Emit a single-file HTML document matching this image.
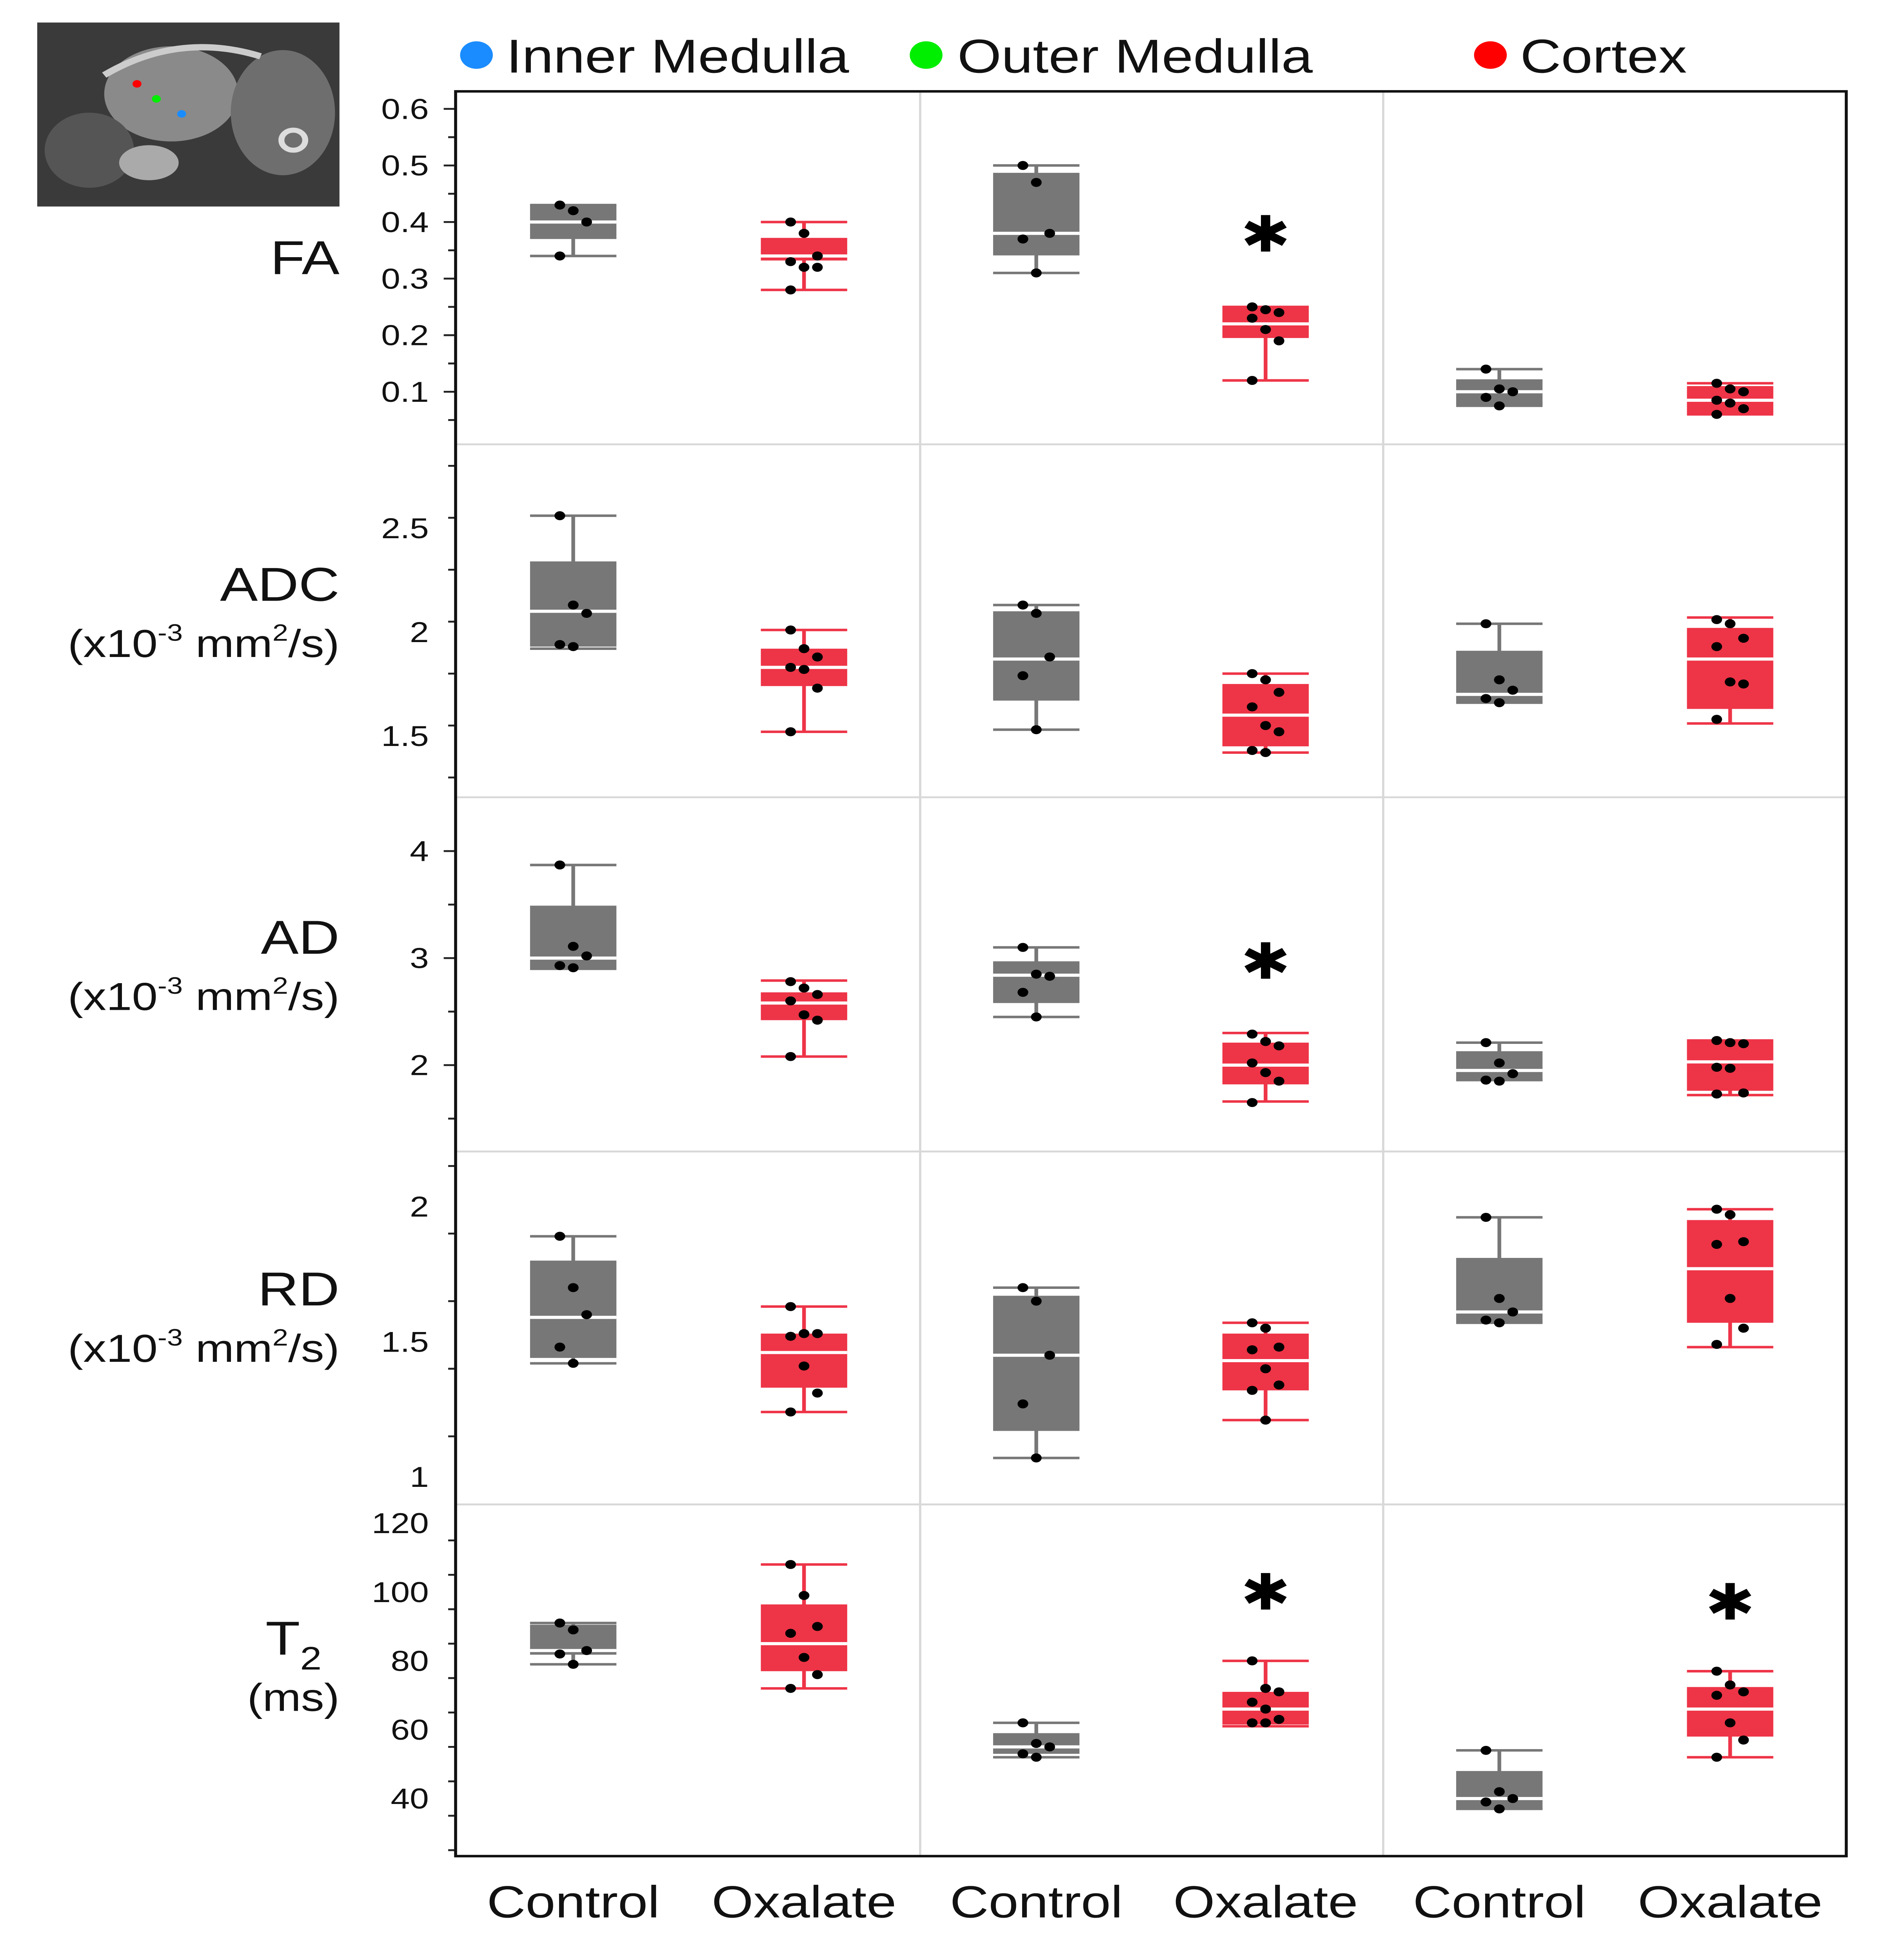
<!DOCTYPE html>
<html><head><meta charset="utf-8"><style>
html,body{margin:0;padding:0;background:#fff;overflow:hidden;width:100%;height:100%}
svg{display:block;position:absolute;left:0;top:0;width:100%;height:100%}
text{font-family:"Liberation Sans",sans-serif}
</style></head><body>
<svg id="chart" viewBox="0 0 1264 1566" preserveAspectRatio="none" xmlns="http://www.w3.org/2000/svg">
<g>
<rect x="25" y="18" width="203" height="147" fill="#3a3a3a"/>
<ellipse cx="115" cy="75" rx="45" ry="38" fill="#8a8a8a"/>
<ellipse cx="190" cy="90" rx="35" ry="50" fill="#6e6e6e"/>
<ellipse cx="60" cy="120" rx="30" ry="30" fill="#555"/>
<ellipse cx="100" cy="130" rx="20" ry="14" fill="#aaa"/>
<circle cx="197" cy="112" r="8" fill="none" stroke="#ddd" stroke-width="4"/>
<path d="M70 60 Q120 25 175 45" stroke="#ccc" stroke-width="5" fill="none"/>
<circle cx="92" cy="67" r="3" fill="#ff0000"/>
<circle cx="105" cy="79" r="3" fill="#00ee00"/>
<circle cx="122" cy="91" r="3" fill="#1a8cff"/>
</g>
<g>
<circle cx="320" cy="44" r="11" fill="#1a8cff"/>
<text x="340" y="58" font-size="38" fill="#111">Inner Medulla</text>
<circle cx="622" cy="44" r="11" fill="#00ee00"/>
<text x="643" y="58" font-size="38" fill="#111">Outer Medulla</text>
<circle cx="1001" cy="44" r="11" fill="#ff0000"/>
<text x="1021" y="58" font-size="38" fill="#111">Cortex</text>
</g>
<g id="plot"></g>
</svg>
<script>
const groups=["Control","Oxalate","Control","Oxalate","Control","Oxalate"];
const rowNames=["FA","ADC","AD","RD","T2"];
const faBoxes=[[0.34,0.37,0.40,0.43,0.43],[0.28,0.332,0.34,0.372,0.40],[0.31,0.341,0.38,0.487,0.50],[0.12,0.195,0.22,0.25,0.25],[0.08,0.073,0.10,0.122,0.14],[0.06,0.062,0.085,0.11,0.115]];
const faPoints=[[0.43,0.42,0.40,0.34],[0.40,0.38,0.34,0.33,0.32,0.32,0.28],[0.50,0.47,0.38,0.37,0.31],[0.25,0.245,0.24,0.23,0.21,0.19,0.12],[0.14,0.105,0.10,0.09,0.075],[0.115,0.105,0.10,0.085,0.08,0.07,0.06]];
const adcBoxes=[[1.92,1.93,2.10,2.34,2.56],[1.52,1.74,1.83,1.92,2.01],[1.53,1.67,1.87,2.10,2.13],[1.42,1.45,1.60,1.75,1.80],[1.66,1.66,1.70,1.91,2.04],[1.56,1.63,1.87,2.02,2.07]];
const adcPoints=[[2.56,2.13,2.09,1.94,1.93],[2.01,1.92,1.88,1.83,1.82,1.73,1.52],[2.13,2.09,1.88,1.79,1.53],[1.80,1.77,1.71,1.64,1.55,1.52,1.43,1.42],[2.04,1.77,1.72,1.68,1.66],[2.06,2.04,1.97,1.93,1.76,1.75,1.58]];
const adBoxes=[[2.90,2.91,3.0,3.49,3.87],[2.08,2.42,2.58,2.68,2.79],[2.45,2.58,2.84,2.97,3.10],[1.66,1.82,2.0,2.21,2.30],[1.86,1.85,1.95,2.13,2.21],[1.72,1.76,2.03,2.22,2.23]];
const adPoints=[[3.87,3.11,3.02,2.93,2.91],[2.78,2.72,2.66,2.60,2.47,2.42,2.08],[3.10,2.85,2.83,2.68,2.45],[2.29,2.22,2.18,2.02,1.93,1.85,1.65],[2.21,2.02,1.92,1.86,1.85],[2.23,2.21,2.20,1.98,1.97,1.74,1.73]];
const rdBoxes=[[1.42,1.44,1.59,1.80,1.89],[1.24,1.33,1.46,1.53,1.63],[1.07,1.17,1.45,1.67,1.70],[1.21,1.32,1.43,1.53,1.57],[1.57,1.57,1.61,1.81,1.96],[1.48,1.57,1.77,1.95,1.99]];
const rdPoints=[[1.89,1.70,1.60,1.48,1.42],[1.63,1.53,1.53,1.52,1.41,1.31,1.24],[1.70,1.65,1.45,1.27,1.07],[1.57,1.55,1.48,1.47,1.40,1.34,1.32,1.21],[1.96,1.66,1.61,1.58,1.57],[1.99,1.97,1.87,1.86,1.66,1.55,1.49]];
const t2Boxes=[[79,81.8,83,90.5,91],[72,77,85,96.4,108],[52,53,55,59,62],[61,61.5,66,71,80],[37,36.7,40,48,54],[52,58,66,72.4,77]];
const t2Points=[[91,89,83,82,79],[108,99,90,88,81,76,72],[62,56,55,53,52],[80,72,71,68,66,63,62,62],[54,42,40,39,37],[77,73,71,70,62,57,52]];
const faTicks=[0.1,0.2,0.3,0.4,0.5,0.6];
const adcTicks=[1.5,2,2.5];
const adTicks=[2,3,4];
const rdTicks=[1,1.5,2];
const t2Ticks=[40,60,80,100,120];
const faStars=[3];const adcStars=[];const adStars=[3];const rdStars=[];const t2Stars=[3,5];

const NS="http://www.w3.org/2000/svg";
const plot=document.getElementById('plot');
function el(tag,attrs,parent){const e=document.createElementNS(NS,tag);for(const k in attrs)e.setAttribute(k,attrs[k]);(parent||plot).appendChild(e);return e;}
const L=306,R=1240,T=73,B=1483;
const rowTops=[73,355,637,920,1202];
const colX=[385,540,696,850,1007,1162];
const rows=[
 {boxes:faBoxes,pts:faPoints,ticks:faTicks,stars:faStars,y:v=>87+(0.6-v)*452,minor:0.05,lo:0.0,hi:0.62,fmt:v=>v.toFixed(1)},
 {boxes:adcBoxes,pts:adcPoints,ticks:adcTicks,stars:adcStars,y:v=>422+(2.5-v)*166,minor:0.25,lo:1.3,hi:2.9,fmt:v=>String(v)},
 {boxes:adBoxes,pts:adPoints,ticks:adTicks,stars:adStars,y:v=>680+(4-v)*85.5,minor:0.5,lo:1.0,hi:4.6,fmt:v=>String(v)},
 {boxes:rdBoxes,pts:rdPoints,ticks:rdTicks,stars:rdStars,y:v=>964+(2-v)*216,minor:0.25,lo:0.9,hi:2.2,fmt:v=>String(v)},
 {boxes:t2Boxes,pts:t2Points,ticks:t2Ticks,stars:t2Stars,y:v=>1217+(120-v)*2.75,minor:10,lo:25,hi:125,fmt:v=>String(v)}
];
const starY=[187,null,768,null,1272];
for(let i=1;i<5;i++){const g=el('line',{x1:L,x2:R,y1:rowTops[i],y2:rowTops[i],stroke:'#d8d8d8','stroke-width':1.5});

}
[618,929].forEach(x=>{const g=el('line',{x1:x,x2:x,y1:T,y2:B,stroke:'#d8d8d8','stroke-width':1.5});

});

rows.forEach((r,ri)=>{
 const top=rowTops[ri],bot=ri<4?rowTops[ri+1]:B;
 for(let v=r.lo;v<=r.hi+1e-9;v+=r.minor){const y=r.y(v);if(y<top+3||y>bot-3)continue;
  const isMaj=r.ticks.some(t=>Math.abs(t-v)<1e-6);
  const tk=el('line',{x1:L,x2:L-(isMaj?8:5),y1:y,y2:y,stroke:'#222','stroke-width':1.5});
  
  }
 r.ticks.forEach(t=>{const y=r.y(t);const tx=el('text',{x:L-18,y:y+8,'font-size':23,'text-anchor':'end',fill:'#111'});tx.textContent=r.fmt(t);
  
  });
 r.boxes.forEach((b,gi)=>{
  const cx=colX[gi],red=gi%2===1,c=red?'#ee3447':'#777777';
  const g=el('g',{});
  
  
  const [wl,q1,md,q3,wh]=b,w=29;
  el('line',{x1:cx,x2:cx,y1:r.y(wh),y2:r.y(wl),stroke:c,'stroke-width':2.5},g);
  el('line',{x1:cx-w,x2:cx+w,y1:r.y(wh),y2:r.y(wh),stroke:c,'stroke-width':2},g);
  el('line',{x1:cx-w,x2:cx+w,y1:r.y(wl),y2:r.y(wl),stroke:c,'stroke-width':2},g);
  const ya=r.y(Math.max(q1,q3)),yb=r.y(Math.min(q1,q3));
  el('rect',{x:cx-w,y:ya,width:2*w,height:yb-ya,fill:c},g);
  el('line',{x1:cx-w,x2:cx+w,y1:r.y(md),y2:r.y(md),stroke:'#fff','stroke-width':2.5},g);
  r.pts[gi].forEach((p,pi)=>{const jx=cx+((pi%3)-1)*9;
   el('circle',{cx:jx,cy:r.y(p),r:3.6,fill:'#000'},g);});
 });
 r.stars.forEach(gi=>{const s=el('text',{x:colX[gi],y:starY[ri]+(gi===5?8:0)+14,'font-size':40,'text-anchor':'middle',fill:'#000','font-family':'DejaVu Sans, sans-serif'});s.textContent='✱';
  
  });
});
const fr=el('rect',{x:L,y:T,width:R-L,height:B-T,fill:'none',stroke:'#111','stroke-width':2});


groups.forEach((g,i)=>{const t=el('text',{x:colX[i],y:1532,'font-size':36,'text-anchor':'middle',fill:'#111'});t.textContent=g;
 
 });
function rowLabel(main,mainY,sub,name){
 const t=el('text',{x:228,y:mainY,'font-size':38,'text-anchor':'end',fill:'#111'});t.textContent=main;
 
 
 if(sub){const s=el('text',{x:228,y:mainY+45,'font-size':31,'text-anchor':'end',fill:'#111'});
  
  
  s.innerHTML='(x10<tspan font-size="19" dy="-13">-3</tspan><tspan dy="13"> mm</tspan><tspan font-size="19" dy="-13">2</tspan><tspan dy="13">/s)</tspan>';}
}
rowLabel('FA',219,false,'fa');
rowLabel('ADC',480,true,'adc');
rowLabel('AD',762,true,'ad');
rowLabel('RD',1043,true,'rd');
const t2=el('text',{x:216,y:1322,'font-size':38,'text-anchor':'end',fill:'#111'});t2.innerHTML='T<tspan font-size="26" dy="12">2</tspan>';


const ms=el('text',{x:228,y:1367,'font-size':31,'text-anchor':'end',fill:'#111'});ms.textContent='(ms)';


</script>
</body></html>
